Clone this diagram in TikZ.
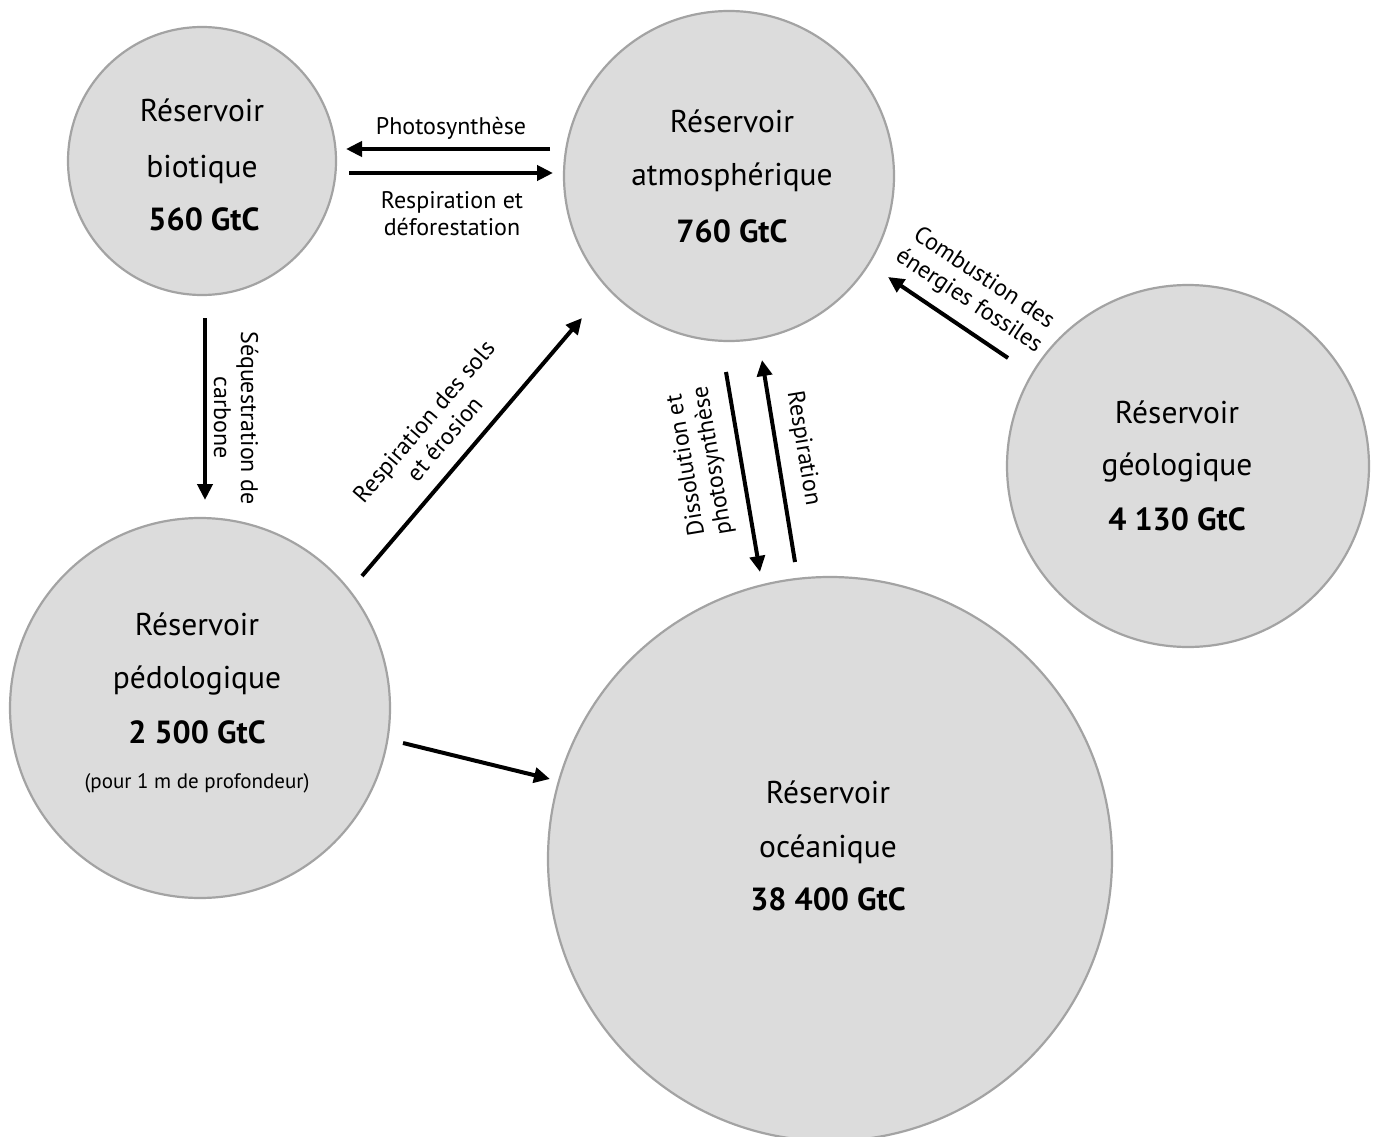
\documentclass[tikz,border=0pt]{standalone}
\usepackage{fontspec}
\setmainfont{PT Sans}
\usetikzlibrary{arrows.meta}
\definecolor{resfill}{HTML}{DCDCDC}
\definecolor{resline}{HTML}{A3A3A3}
\begin{document}
\begin{tikzpicture}[x=1pt,y=-1pt,
  res/.style={circle, draw=resline, fill=resfill, line width=2.2pt, inner sep=0pt},
  rtxt/.style={anchor=base, font=\fontsize{31.5}{33}\selectfont, inner sep=0pt},
  rnum/.style={anchor=base, font=\fontsize{32}{33}\selectfont\bfseries, inner sep=0pt},
  rsmall/.style={anchor=base, font=\fontsize{21}{23}\selectfont, inner sep=0pt},
  flow/.style={line width=4pt, -{Triangle[length=16pt,width=15pt]}},
  lbl/.style={align=center, font=\fontsize{24}{27}\selectfont, inner sep=0pt}]
\useasboundingbox (0,0) rectangle (1373,1137);

% reservoirs
\node[res, minimum size=268pt] (bio) at (202,161) {};
\node[res, minimum size=330pt] (atm) at (729,176) {};
\node[res, minimum size=362pt] (geo) at (1188,466) {};
\node[res, minimum size=380pt] (pedo) at (200,708) {};
\node[res, minimum size=564pt] (ocean) at (830,859) {};

% reservoir texts
\node[rtxt] (bio1) at (202,122) {Réservoir};
\node[rtxt] (bio2) at (202,177) {biotique};
\node[rnum] (bio3) at (204,230) {560 GtC};

\node[rtxt] (atm1) at (732,132) {Réservoir};
\node[rtxt] (atm2) at (732,185) {atmosphérique};
\node[rnum] (atm3) at (732,242) {760 GtC};

\node[rtxt] (geo1) at (1177,423) {Réservoir};
\node[rtxt] (geo2) at (1177,475) {géologique};
\node[rnum] (geo3) at (1177,530) {4 130 GtC};

\node[rtxt] (pedo1) at (197,635) {Réservoir};
\node[rtxt] (pedo2) at (197,688) {pédologique};
\node[rnum] (pedo3) at (197,743) {2 500 GtC};
\node[rsmall] (pedo4) at (197,788) {(pour 1 m de profondeur)};

\node[rtxt] (oc1) at (828,803) {Réservoir};
\node[rtxt] (oc2) at (828,857) {océanique};
\node[rnum] (oc3) at (828,910) {38 400 GtC};

% arrow end points
\coordinate (phS) at (550,149);  \coordinate (phE) at (346,149);
\coordinate (rdS) at (349,173);  \coordinate (rdE) at (553,173);
\coordinate (sqS) at (205,318);  \coordinate (sqE) at (205,500);
\coordinate (slS) at (362,576);  \coordinate (slE) at (582,318);
\coordinate (dsS) at (726,372);  \coordinate (dsE) at (760,572);
\coordinate (rpS) at (795,562);  \coordinate (rpE) at (762,360);
\coordinate (cbS) at (1008,358); \coordinate (cbE) at (888,277);
\coordinate (poS) at (403,743);  \coordinate (poE) at (550,779);

% arrows
\draw[flow] (phS) -- (phE);
\draw[flow] (rdS) -- (rdE);
\draw[flow] (sqS) -- (sqE);
\draw[flow] (slS) -- (slE);
\draw[flow] (dsS) -- (dsE);
\draw[flow] (rpS) -- (rpE);
\draw[flow] (cbS) -- (cbE);
\draw[flow] (poS) -- (poE);

% labels
\node[lbl, anchor=base] (lph) at (451,135) {Photosynthèse};
\node[lbl] (lrd) at (452,214) {Respiration et\\déforestation};
\node[lbl, rotate=-90] (lsq) at (236,418) {Séquestration de\\carbone};
\node[lbl, rotate=49.5] (lsl) at (434,430) {Respiration des sols\\et érosion};
\node[lbl, rotate=99.4] (lds) at (700,463) {Dissolution et\\photosynthèse};
\node[lbl, rotate=-80.6] (lrp) at (803,448) {Respiration};
\node[lbl, rotate=-33.5] (lcb) at (976,290) {Combustion des\\énergies fossiles};
\end{tikzpicture}
\end{document}
